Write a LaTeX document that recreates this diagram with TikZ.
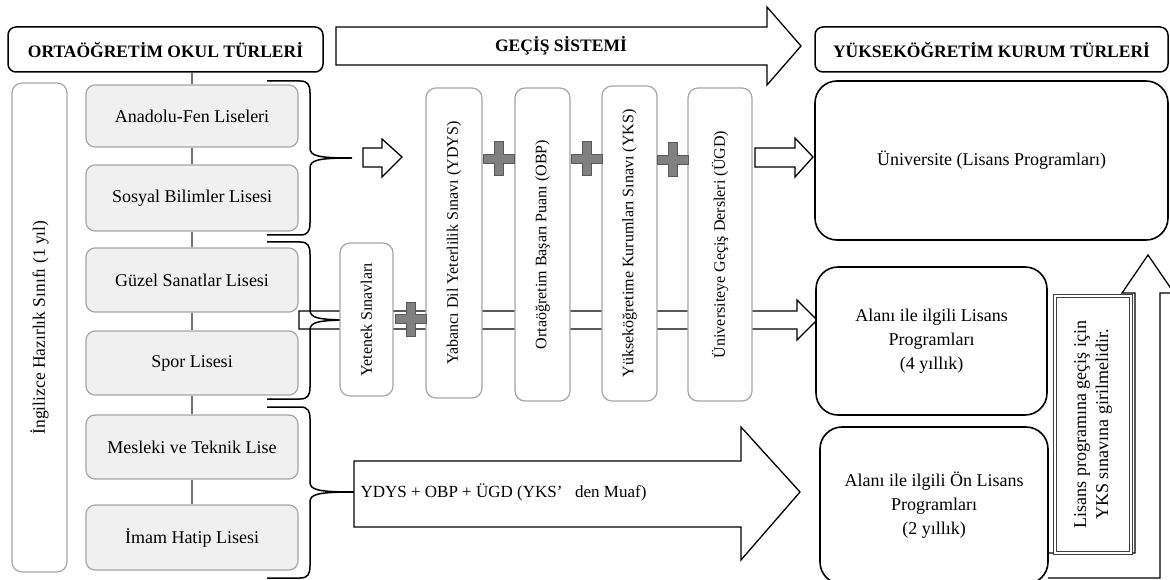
\documentclass[tikz,border=0pt]{standalone}
\usepackage{fontspec}
\setmainfont{Liberation Serif}

% #1 top y, #2 middle y, #3 bottom y, #4 tip x
\newcommand{\kume}[4]{%
  \draw[kume] (267,#1) -- (300,#1) .. controls (308,#1) and (310,#1+4) .. (310,#1+12)
    -- (310,#2-10) .. controls (310,#2-2) and (318,#2) .. (#4,#2)
    .. controls (318,#2) and (310,#2+2) .. (310,#2+10)
    -- (310,#3-12) .. controls (310,#3-4) and (308,#3) .. (300,#3) -- (267,#3);}
\newcommand{\arti}[2]{%
  \draw[arti] (#1-15.5,#2-4.5) -- (#1-4.5,#2-4.5) -- (#1-4.5,#2-17) -- (#1+4.5,#2-17)
    -- (#1+4.5,#2-4.5) -- (#1+15.5,#2-4.5) -- (#1+15.5,#2+4.5) -- (#1+4.5,#2+4.5)
    -- (#1+4.5,#2+17) -- (#1-4.5,#2+17) -- (#1-4.5,#2+4.5) -- (#1-15.5,#2+4.5) -- cycle;}

\begin{document}
\begin{tikzpicture}[x=1pt,y=-1pt]
\tikzstyle{baslik}=[rectangle,rounded corners=8,draw=black,line width=1.5pt,font=\fontsize{17.5}{20}\selectfont\bfseries,anchor=center]
\tikzstyle{okul}=[rectangle,rounded corners=9,draw=black!35,line width=1.2pt,fill=black!6,font=\fontsize{18}{22}\selectfont,anchor=center,minimum width=212]
\tikzstyle{sinav}=[rectangle,rounded corners=10,draw=black!35,line width=1.2pt,fill=white,rotate=90,font=\fontsize{16}{19}\selectfont,anchor=center,inner sep=0pt]
\tikzstyle{kurum}=[rectangle,rounded corners=22,draw=black,line width=1.6pt,fill=white,align=center,font=\fontsize{18}{24}\selectfont,anchor=center]
\tikzstyle{blok}=[draw=black,line width=1.3pt,fill=white,line join=miter]
\tikzstyle{kume}=[draw=black,line width=1.5pt]
\tikzstyle{arti}=[draw=black!65,line width=1pt,fill=black!50]
\tikzstyle{hat}=[draw=black!55,line width=2pt]

\useasboundingbox (0,0) rectangle (1170,580);
\clip (0,0) rectangle (1170,580);

\draw[blok] (299,311) -- (797,311) -- (797,300) -- (817,320) -- (797,340) -- (797,329) -- (299,329) -- cycle;
\draw[blok] (1048,553) -- (1135,553) -- (1135,293) -- (1122,293) -- (1148,255) -- (1174,293) -- (1160,293) -- (1160,578) -- (1048,578);

\kume{81}{158}{235}{352}
\kume{242}{320}{399}{353}
\kume{407}{492}{578}{355}

\node [baslik,minimum width=315,minimum height=45] at (165.5,49.5) (ortaBaslik) {ORTAÖĞRETİM OKUL TÜRLERİ};
\node [baslik,minimum width=353,minimum height=45] at (991.5,49.5) (yuksekBaslik) {YÜKSEKÖĞRETİM KURUM TÜRLERİ};

\draw[blok] (336,27) -- (767,27) -- (767,7) -- (801,46) -- (767,85) -- (767,65) -- (336,65) -- cycle;
\node [font=\fontsize{17.5}{20}\selectfont\bfseries] at (561,46) (gecis) {GEÇİŞ SİSTEMİ};

\node [sinav,font=\fontsize{17.5}{20}\selectfont,minimum width=489,minimum height=55] at (39.5,327.5) (hazirlik) {İngilizce Hazırlık Sınıfı (1 yıl)};

\node [okul,minimum height=62] at (192,116) (anadolu) {Anadolu-Fen Liseleri};
\node [okul,minimum height=66] at (192,198) (sosyal) {Sosyal Bilimler Lisesi};
\node [okul,minimum height=64] at (192,280) (guzel) {Güzel Sanatlar Lisesi};
\node [okul,minimum height=64] at (192,363) (spor) {Spor Lisesi};
\node [okul,minimum height=64] at (192,447) (meslek) {Mesleki ve Teknik Lise};
\node [okul,minimum height=65] at (192,537.5) (imam) {İmam Hatip Lisesi};

\draw[hat] (anadolu.north |- ortaBaslik.south) -- (anadolu.north);
\foreach \a/\b in {anadolu/sosyal,sosyal/guzel,guzel/spor,spor/meslek,meslek/imam}
  \draw[hat] (\a.south) -- (\b.north);

\node [sinav,minimum width=153,minimum height=53] at (366.5,319.5) (yetenek) {Yetenek Sınavları};
\node [sinav,minimum width=310,minimum height=56] at (454,243) (ydys) {Yabancı Dil Yeterlilik Sınavı (YDYS)};
\node [sinav,minimum width=313,minimum height=55] at (542.5,244.5) (obp) {Ortaöğretim Başarı Puanı (OBP)};
\node [sinav,minimum width=315,minimum height=55] at (629.5,243.5) (yks) {Yükseköğretime Kurumları Sınavı (YKS)};
\node [sinav,minimum width=313,minimum height=64] at (720,244.5) (ugd) {Üniversiteye Geçiş Dersleri (ÜGD)};

\arti{499}{159}
\arti{587}{159}
\arti{673}{160}
\arti{411}{319}

\draw[blok] (363,148) -- (382,148) -- (382,139) -- (402,157) -- (382,177) -- (382,167) -- (363,167) -- cycle;
\draw[blok] (755,148) -- (795,148) -- (795,138) -- (813,157) -- (795,177) -- (795,167) -- (755,167) -- cycle;
\draw[blok] (354,461) -- (741,461) -- (741,427) -- (800,492) -- (741,560) -- (741,527) -- (354,527) -- cycle;
\node [anchor=west,font=\fontsize{17}{20}\selectfont] at (357,492) (muaf) {YDYS + OBP + ÜGD (YKS’\ \ \ den Muaf)};

\node [kurum,minimum width=353,minimum height=159] at (991.5,160.5) (universite) {Üniversite (Lisans Programları)};
\node [kurum,minimum width=231,minimum height=148] at (931.5,341) (lisans) {Alanı ile ilgili Lisans\\Programları\\(4 yıllık)};
\node [kurum,minimum width=228,minimum height=157] at (934,505.5) (onlisans) {Alanı ile ilgili Ön Lisans\\Programları\\(2 yıllık)};

\node [rectangle,draw=black!75,line width=1pt,double,double distance=1.4pt,fill=white,rotate=90,align=center,font=\fontsize{18}{22}\selectfont,minimum width=257,minimum height=76] at (1093,424.5) (not) {Lisans programına geçiş için\\YKS sınavına girilmelidir.};
\end{tikzpicture}
\end{document}
